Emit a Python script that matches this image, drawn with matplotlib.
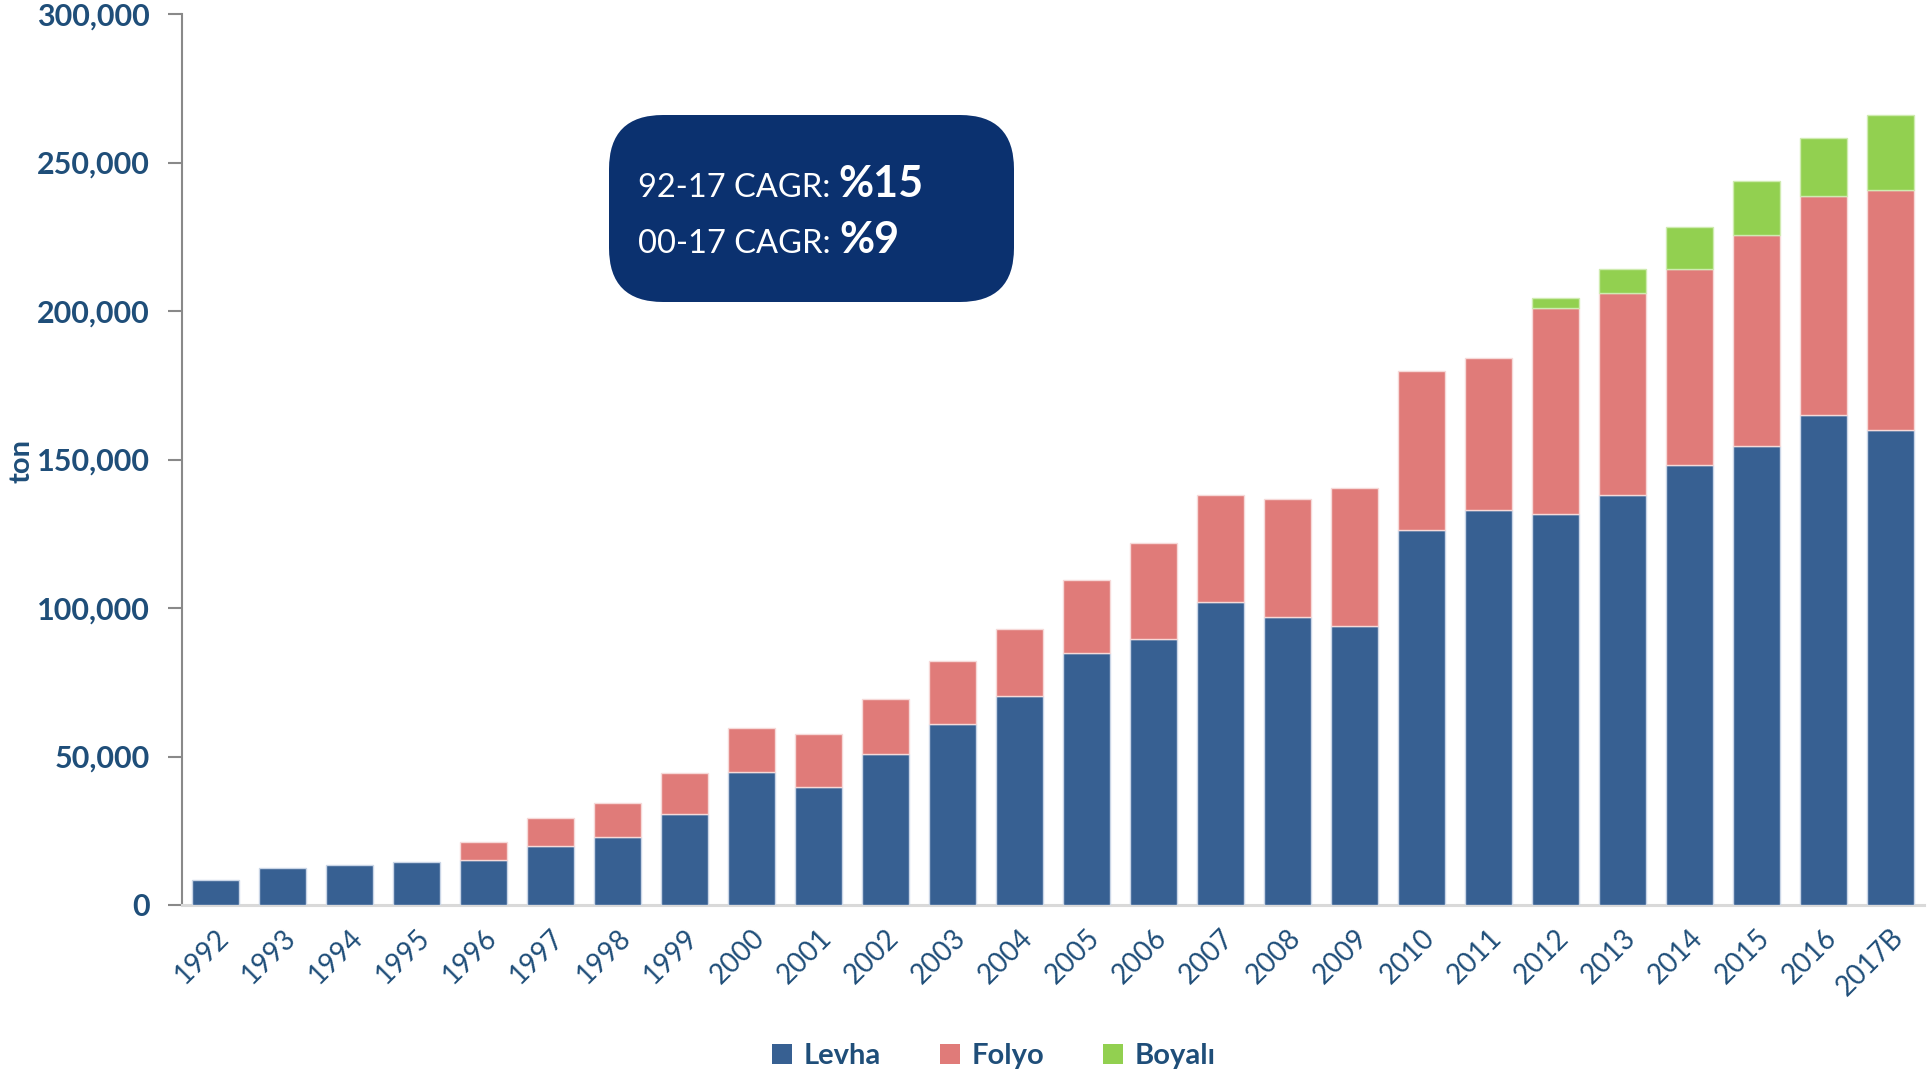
import matplotlib
matplotlib.use("Agg")
import matplotlib.pyplot as plt
from matplotlib.patches import FancyBboxPatch, Patch
from matplotlib.ticker import FuncFormatter
import numpy as np

years = ["1992", "1993", "1994", "1995", "1996", "1997", "1998", "1999", "2000",
         "2001", "2002", "2003", "2004", "2005", "2006", "2007", "2008", "2009",
         "2010", "2011", "2012", "2013", "2014", "2015", "2016", "2017B"]
levha = [8300, 12400, 13300, 14500, 15300, 19900, 22800, 30700, 44800,
         39800, 51000, 60900, 70500, 85000, 89500, 102000, 97000, 94000,
         126400, 133000, 131800, 138000, 148000, 154700, 165100, 159800]
folyo = [0, 0, 0, 0, 5800, 9500, 11600, 13600, 14900,
         17800, 18200, 21100, 22300, 24400, 32300, 36000, 39800, 46500,
         53500, 51200, 69100, 68000, 66200, 71000, 73500, 81000]
boyali = [0, 0, 0, 0, 0, 0, 0, 0, 0,
          0, 0, 0, 0, 0, 0, 0, 0, 0,
          0, 0, 3600, 8200, 14100, 18100, 19700, 25200]
series_names = ["Levha", "Folyo", "Boyalı"]
colors = ["#376092", "#E07B79", "#92D050"]
edge_colors = ["#C9D5E6", "#F6D9D8", "#CFEBB0"]
cagr_lines = [("92-17 CAGR: ", "%15"), ("00-17 CAGR: ", "%9")]
y_ticks = [0, 50000, 100000, 150000, 200000, 250000, 300000]

txt = "#1F4E79"
plt.rcParams["font.family"] = ["Lato", "DejaVu Sans"]

fig = plt.figure(figsize=(19.29, 10.71), dpi=100)
ax = fig.add_axes([182/1929, 1-905/1071, (1924-182)/1929, (905-14)/1071])

x = np.arange(len(years))
w = 0.69
bottom = np.zeros(len(years))
for vals, c, ec in zip([levha, folyo, boyali], colors, edge_colors):
    v = np.array(vals, dtype=float)
    m = v > 0
    ax.bar(x[m], v[m], w, bottom=bottom[m], color=c, edgecolor=ec, linewidth=1.0, zorder=3)
    bottom += v

ax.set_xlim(-0.5, len(years) - 0.5)
ax.set_ylim(0, 300000)
ax.set_yticks(y_ticks)
ax.yaxis.set_major_formatter(FuncFormatter(lambda v, p: f"{int(v):,}"))
ax.set_xticks(x)
ax.set_xticklabels(years, rotation=45, ha="right", rotation_mode="anchor",
                   fontsize=20, color=txt)
for lab in ax.get_yticklabels():
    lab.set_fontweight("bold")
    lab.set_fontsize(22)
    lab.set_color(txt)
ax.tick_params(axis="y", length=10, width=1.5, color="#898989", pad=13)
ax.tick_params(axis="x", length=0, pad=14)

for s in ["top", "right"]:
    ax.spines[s].set_visible(False)
ax.spines["left"].set_color("#898989")
ax.spines["left"].set_linewidth(1.5)
ax.spines["bottom"].set_color("#D9D9D9")
ax.spines["bottom"].set_linewidth(2.2)

fig.text(22/1929, 1-461/1071, "ton", rotation=90, ha="center", va="center",
         fontsize=21, fontweight="bold", color=txt)

# CAGR box
box = FancyBboxPatch((609/1929, 1-302/1071), (1014-609)/1929, (302-115)/1071,
                     boxstyle="round,pad=0,rounding_size=0.028",
                     transform=fig.transFigure, facecolor="#0B316F",
                     edgecolor="none", mutation_aspect=1929/1071)
fig.patches.append(box)
baselines = [197, 253]
for (a, b), yb in zip(cagr_lines, baselines):
    t = fig.text(638/1929, 1-yb/1071, a, fontsize=23.5, color="white",
                 ha="left", va="baseline")
    fig.canvas.draw()
    bb = t.get_window_extent()
    fig.text(bb.x1/1929, 1-yb/1071, b, fontsize=31, fontweight="bold",
             color="white", ha="left", va="baseline")

handles = [Patch(facecolor=c, edgecolor="none", label=n) for c, n in zip(colors, series_names)]
leg = fig.legend(handles=handles, loc="center", bbox_to_anchor=(994/1929, 1-1056/1071),
                 ncol=3, frameon=False, fontsize=21, handlelength=0.7, handleheight=0.7,
                 handletextpad=0.4, columnspacing=2.0)
for t in leg.get_texts():
    t.set_fontweight("bold")
    t.set_color(txt)

fig.savefig("out.png", dpi=100, facecolor="white")
